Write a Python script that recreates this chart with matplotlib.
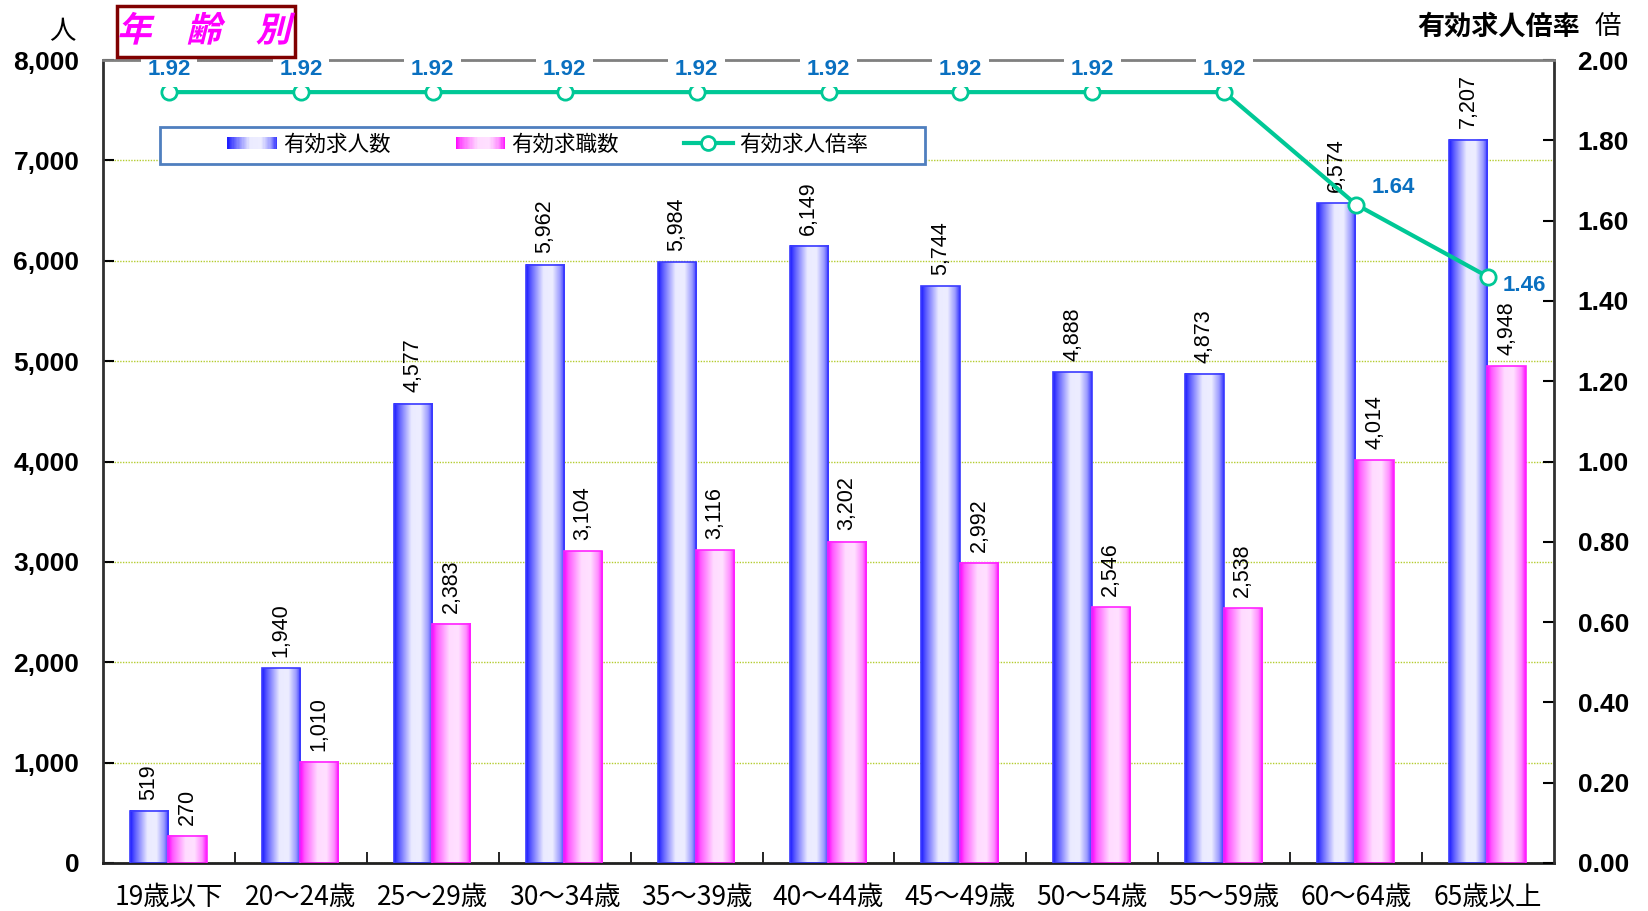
import numpy as np
import matplotlib
matplotlib.use('Agg')
import matplotlib.pyplot as plt
from matplotlib.patches import Rectangle
from matplotlib.lines import Line2D
from matplotlib.legend_handler import HandlerBase
from matplotlib.colors import LinearSegmentedColormap
from matplotlib.patheffects import AbstractPathEffect
from matplotlib.transforms import Affine2D

# ---------------- data ----------------
categories = ['19歳以下', '20～24歳', '25～29歳', '30～34歳', '35～39歳', '40～44歳',
              '45～49歳', '50～54歳', '55～59歳', '60～64歳', '65歳以上']
job_openings = [519, 1940, 4577, 5962, 5984, 6149, 5744, 4888, 4873, 6574, 7207]   # 有効求人数
job_seekers = [270, 1010, 2383, 3104, 3116, 3202, 2992, 2546, 2538, 4014, 4948]     # 有効求職数
ratio = [1.92, 1.92, 1.92, 1.92, 1.92, 1.92, 1.92, 1.92, 1.92, 1.64, 1.46]           # 有効求人倍率
left_ticks = [0, 1000, 2000, 3000, 4000, 5000, 6000, 7000, 8000]
right_ticks = [0.0, 0.2, 0.4, 0.6, 0.8, 1.0, 1.2, 1.4, 1.6, 1.8, 2.0]
series_names = ['有効求人数', '有効求職数', '有効求人倍率']

CJK = ['Noto Sans CJK JP', 'DejaVu Sans']
LAT = ['Liberation Sans', 'DejaVu Sans']
plt.rcParams['font.family'] = CJK

W, H = 1648, 911
fig = plt.figure(figsize=(W / 100, H / 100), dpi=100)
fig.patch.set_facecolor('white')


def fx(px):
    return px / W


def fy(py):
    return 1 - py / H


class Skew(AbstractPathEffect):
    def __init__(self, deg=14):
        super().__init__()
        self.deg = deg

    def draw_path(self, renderer, gc, tpath, affine, rgbFace=None):
        ext = tpath.transformed(affine).get_extents()
        cx, cy = (ext.x0 + ext.x1) / 2, (ext.y0 + ext.y1) / 2
        sk = Affine2D().translate(-cx, -cy).skew_deg(self.deg, 0).translate(cx, cy)
        renderer.draw_path(gc, tpath, affine + sk, rgbFace)


ax = fig.add_axes([fx(103), fy(863), fx(1554) - fx(103), fy(60) - fy(863)])
ax2 = ax.twinx()

blue_cmap = LinearSegmentedColormap.from_list('bl', [
    (0.0, (0.10, 0.10, 1.0)), (0.12, (0.35, 0.35, 1.0)), (0.45, (0.92, 0.92, 1.0)),
    (0.68, (0.93, 0.93, 1.0)), (0.88, (0.60, 0.60, 1.0)), (1.0, (0.20, 0.20, 1.0))])
pink_cmap = LinearSegmentedColormap.from_list('pk', [
    (0.0, (1.0, 0.0, 1.0)), (0.12, (1.0, 0.35, 1.0)), (0.45, (1.0, 0.86, 1.0)),
    (0.68, (1.0, 0.88, 1.0)), (0.88, (1.0, 0.55, 1.0)), (1.0, (1.0, 0.05, 1.0))])

x = np.arange(len(categories))
bw = 0.29
grad = np.linspace(0, 1, 256).reshape(1, -1)

bars_b = ax.bar(x - 0.295, job_openings, bw, align='edge', facecolor='none',
                edgecolor='#3a3aff', linewidth=1.2, zorder=3)
bars_p = ax.bar(x - 0.005, job_seekers, bw, align='edge', facecolor='none',
                edgecolor='#ff22ff', linewidth=1.2, zorder=3)
for bars, cmap in ((bars_b, blue_cmap), (bars_p, pink_cmap)):
    for r in bars:
        x0, w, h = r.get_x(), r.get_width(), r.get_height()
        ax.imshow(grad, extent=[x0, x0 + w, 0, h], aspect='auto', cmap=cmap,
                  interpolation='bilinear', zorder=2)

for bars, vals in ((bars_b, job_openings), (bars_p, job_seekers)):
    for r, v in zip(bars, vals):
        ax.annotate(f'{v:,}', xy=(r.get_x() + r.get_width() / 2, v), xytext=(0, 8),
                    textcoords='offset points', rotation=90, ha='center', va='bottom',
                    fontsize=15.5, family=LAT, color='black', zorder=4)

ax.set_xlim(-0.5, len(categories) - 0.5)
ax.set_ylim(0, 8000)
ax.set_yticks(left_ticks)
ax.set_yticklabels([f'{t:,}' for t in left_ticks], family=LAT, fontsize=19, fontweight='bold')
ax.tick_params(axis='y', direction='in', length=8, width=1.5, pad=17, colors='black')
ax.set_xticks(np.arange(len(categories) - 1) + 0.5)
ax.set_xticklabels([])
ax.tick_params(axis='x', which='major', direction='in', length=8, width=1.2)
ax.set_xticks(x, minor=True)
ax.set_xticklabels(categories, minor=True, fontsize=19, family=CJK)
ax.tick_params(axis='x', which='minor', length=0, pad=15)
ax.set_axisbelow(True)
ax.yaxis.grid(True, color='#b4cc30', linestyle=(0, (1, 1)), linewidth=1.0)

for s in ('top', 'right'):
    ax.spines[s].set_visible(False)
ax.spines['left'].set_color('#303030')
ax.spines['left'].set_linewidth(2)
ax.spines['bottom'].set_color('#202020')
ax.spines['bottom'].set_linewidth(2)

# ratio line
green = '#00c896'
ax2.plot(x, ratio, color=green, lw=3, marker='o', ms=11, mfc='white', mec=green,
         mew=2, zorder=5)
ax2.set_ylim(0, 2.0)
ax2.set_yticks(right_ticks)
ax2.set_yticklabels([f'{t:.2f}' for t in right_ticks], family=LAT, fontsize=19, fontweight='bold')
ax2.tick_params(axis='y', direction='in', length=8, width=1.5, pad=17)
ax2.spines['left'].set_visible(False)
ax2.spines['bottom'].set_visible(False)
ax2.spines['right'].set_color('#303030')
ax2.spines['right'].set_linewidth(2)
ax2.spines['top'].set_color('#808080')
ax2.spines['top'].set_linewidth(2)

offsets = [(0, 16)] * 9 + [(27, 12), (26, -6)]
for xi, r, off in zip(x, ratio, offsets):
    box = dict(boxstyle='square,pad=0.3', fc='white', ec='none') if off[0] == 0 else None
    ax2.annotate(f'{r:.2f}', xy=(xi, r), xytext=off, textcoords='offset points',
                 ha='center', va='center', fontsize=16, fontweight='bold', family=LAT,
                 color='#0a70c0', zorder=6, bbox=box)

# legend
fig.add_artist(Rectangle((fx(160), fy(164)), fx(925) - fx(160), fy(127) - fy(164),
                         transform=fig.transFigure, fc='white', ec='#4f7fbf', lw=2, zorder=1))


class GradHandler(HandlerBase):
    def __init__(self, cmap):
        super().__init__()
        self.cmap = cmap

    def create_artists(self, legend, orig_handle, xdescent, ydescent, width, height,
                       fontsize, trans):
        n = 40
        arts = []
        for k in range(n):
            arts.append(Rectangle((-xdescent + width * k / n, -ydescent + height * 0.1),
                                  width / n * 1.05, height * 0.8,
                                  fc=self.cmap((k + 0.5) / n), ec='none', transform=trans))
        return arts


hb = Rectangle((0, 0), 1, 1)
hp = Rectangle((0, 0), 1, 1)
hl = Line2D([], [], color=green, lw=3, marker='o', ms=10, mfc='white', mec=green, mew=2)
fig.legend([hb, hp, hl], series_names, loc='center',
           bbox_to_anchor=(fx(548), fy(145)), bbox_transform=fig.transFigure,
           ncol=3, frameon=False, handlelength=2.3, handletextpad=0.3,
           columnspacing=3.0, prop={'family': CJK, 'size': 15.5},
           handler_map={hb: GradHandler(blue_cmap), hp: GradHandler(pink_cmap)})

# title box
fig.add_artist(Rectangle((fx(117), fy(57)), fx(295) - fx(117), fy(6) - fy(57),
                         transform=fig.transFigure, fc='white', ec='#800000', lw=2.5, zorder=1))
fig.text(fx(207), fy(31), '年　齢　別', ha='center', va='center', fontsize=25,
         fontweight='bold', color='#ff00ff', family=CJK, zorder=3,
         path_effects=[Skew(14)])

# axis unit labels
fig.text(fx(62), fy(32), '人', ha='center', va='center', fontsize=19, family=CJK)
fig.text(fx(1580), fy(27), '有効求人倍率', ha='right', va='center', fontsize=19.5,
         fontweight='bold', family=CJK)
fig.text(fx(1608), fy(27), '倍', ha='center', va='center', fontsize=19, family=CJK)

fig.savefig('out.png', dpi=100, facecolor='white')
